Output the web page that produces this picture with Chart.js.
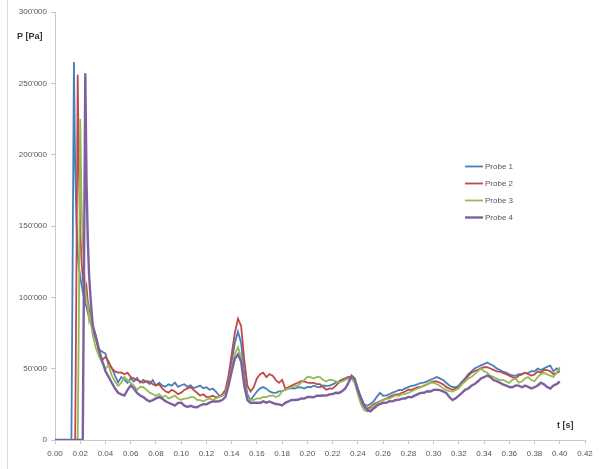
<!DOCTYPE html>
<html>
<head>
<meta charset="utf-8">
<script src="https://cdn.jsdelivr.net/npm/chart.js@4/dist/chart.umd.min.js"></script>
<style>
  html, body { margin: 0; padding: 0; background: #ffffff; }
  canvas { display: block; }
</style>
</head>
<body>
<canvas id="chart" width="603" height="469"></canvas>
<script>
// Sampling instants [s]
const time = [
  0, 0.010, 0.012, 0.013, 0.014, 0.015, 0.016, 0.017, 0.018, 0.019, 0.020,
  0.021, 0.022, 0.023, 0.024, 0.025, 0.026, 0.027, 0.028, 0.029, 0.030,
  0.0325, 0.035, 0.0375, 0.040, 0.0425, 0.045, 0.0475, 0.050,
  0.0525, 0.055, 0.0575, 0.060, 0.0625, 0.065, 0.0675, 0.070,
  0.0725, 0.075, 0.0775, 0.080, 0.0825, 0.085, 0.0875, 0.090,
  0.0925, 0.095, 0.0975, 0.100, 0.1025, 0.105, 0.1075, 0.110,
  0.1125, 0.115, 0.1175, 0.120, 0.1225, 0.125, 0.1275, 0.130,
  0.1325, 0.135, 0.1375, 0.140, 0.1425, 0.145, 0.1475, 0.150,
  0.1525, 0.155, 0.1575, 0.160, 0.1625, 0.165, 0.1675, 0.170,
  0.1725, 0.175, 0.1775, 0.180, 0.1825, 0.185, 0.1875, 0.190,
  0.1925, 0.195, 0.1975, 0.200, 0.2025, 0.205, 0.2075, 0.210,
  0.2125, 0.215, 0.2175, 0.220, 0.2225, 0.225, 0.2275, 0.230,
  0.2325, 0.235, 0.2375, 0.240, 0.2425, 0.245, 0.2475, 0.250,
  0.2525, 0.255, 0.2575, 0.260, 0.2625, 0.265, 0.2675, 0.270,
  0.2725, 0.275, 0.2775, 0.280, 0.2825, 0.285, 0.2875, 0.290,
  0.2925, 0.295, 0.2975, 0.300, 0.3025, 0.305, 0.3075, 0.310,
  0.3125, 0.315, 0.3175, 0.320, 0.3225, 0.325, 0.3275, 0.330,
  0.3325, 0.335, 0.3375, 0.340, 0.3425, 0.345, 0.3475, 0.350,
  0.3525, 0.355, 0.3575, 0.360, 0.3625, 0.365, 0.3675, 0.370,
  0.3725, 0.375, 0.3775, 0.380, 0.3825, 0.385, 0.3875, 0.390,
  0.3925, 0.395, 0.3975, 0.400
];

// Pressure at each probe [Pa]
const probe1 = [
  0, 0, 0, 0, 130000, 265000, 190000, 152000, 130000, 121000, 114000,
  109000, 104000, 100000, 96000, 93000, 89000, 86000, 83000, 80000, 76000,
  70200, 63400, 61800, 60500, 52300, 50600, 45200, 40400,
  44100, 42300, 40100, 43200, 41000, 43500, 40200, 42100,
  40800, 39200, 42000, 38300, 40100, 38200, 37400, 39000,
  38100, 40200, 37300, 38400, 39100, 37200, 38300, 36400,
  37200, 38100, 36300, 37000, 35200, 36100, 34000, 31200,
  31000, 34000, 42000, 55000, 68000, 76000, 68000, 46000,
  32000, 28000, 31000, 34000, 36200, 37100, 36000, 34100,
  33200, 33000, 34100, 34300, 35200, 36000, 36300, 36100,
  37000, 36800, 36100, 37200, 37000, 38100, 37200, 37000,
  38200, 37900, 38100, 39000, 40100, 41200, 42300, 43100,
  44200, 44000, 42000, 36000, 30000, 25000, 24000, 25200,
  27100, 30200, 33000, 31000, 31200, 32100, 33200, 34000,
  35100, 35000, 36200, 37100, 38000, 38300, 39100, 40000,
  40200, 41100, 42200, 43100, 44100, 43200, 42000, 40100,
  38200, 37100, 37000, 38100, 41000, 43200, 46100, 48000,
  50100, 51200, 52300, 53200, 54300, 53100, 52000, 50200,
  49100, 48000, 47200, 46100, 45200, 45000, 46100, 46300,
  47100, 46900, 48200, 48100, 50100, 49000, 50200, 51300,
  52100, 48100, 50200, 49000
];

const probe2 = [
  0, 0, 0, 0, 0, 0, 0, 120000, 256000, 185000, 148000,
  126000, 113000, 106000, 101000, 107000, 97000, 92000, 88000, 84000, 80000,
  72000, 60200, 56100, 58300, 55100, 50200, 48100, 47200,
  47300, 46100, 47200, 44100, 43200, 42100, 41200, 40100,
  41200, 41000, 39100, 38200, 39100, 36200, 34100, 33200,
  35100, 34000, 32100, 33200, 35100, 36200, 37100, 35000,
  33100, 31200, 32000, 30100, 30200, 31100, 30000, 30200,
  32000, 35000, 45000, 60000, 75000, 85000, 80000, 56000,
  38000, 34000, 37100, 43200, 46100, 47200, 44100, 46200,
  45100, 42000, 40100, 42200, 36100, 37000, 38100, 39200,
  40100, 41200, 41000, 40200, 40100, 40000, 39200, 39100,
  37100, 35200, 36100, 36000, 38100, 40200, 42100, 43200,
  44100, 44000, 42000, 34000, 27000, 23000, 22000, 23100,
  25100, 26000, 27200, 28100, 29000, 30200, 31100, 32000,
  32200, 33100, 34000, 35200, 35100, 36000, 37100, 37200,
  38100, 39000, 40200, 41100, 41000, 40100, 39000, 37200,
  36100, 35200, 36000, 37100, 40200, 42100, 45000, 47100,
  48200, 49100, 50200, 51100, 51000, 50100, 49200, 48100,
  48000, 47100, 46200, 45100, 44000, 43200, 45100, 46000,
  47200, 46100, 45200, 46000, 48100, 47200, 49100, 49000,
  48200, 46100, 47000, 48100
];

const probe3 = [
  0, 0, 0, 0, 0, 0, 0, 0, 0, 95000, 225000,
  168000, 138000, 118000, 106000, 99000, 94000, 84000, 88000, 79000, 73000,
  64100, 58200, 54000, 50100, 52200, 45100, 41200, 38000,
  40100, 44200, 42000, 40100, 38200, 35100, 37200, 37000,
  35100, 33200, 32100, 31000, 32200, 30100, 31000, 29200,
  30100, 31200, 29100, 28200, 29000, 29200, 30100, 30000,
  28200, 28000, 27100, 28200, 29100, 28000, 29200, 30100,
  31000, 33000, 40000, 50000, 60000, 65000, 58000, 41000,
  30000, 28000, 28200, 29100, 29000, 30200, 30100, 31000,
  31200, 30100, 31000, 34100, 35200, 36100, 37000, 38200,
  38100, 40200, 42100, 44200, 44000, 43100, 44200, 44100,
  42100, 41000, 42200, 42000, 41100, 40200, 41000, 42100,
  43200, 43000, 40000, 32000, 25000, 21000, 20000, 22100,
  24100, 25200, 27000, 28100, 29200, 29000, 30100, 31200,
  31000, 32100, 32200, 33100, 34000, 35200, 36100, 37000,
  38200, 39100, 40000, 40200, 39100, 38000, 36200, 35100,
  34200, 34000, 35100, 36200, 39100, 41000, 43200, 44100,
  46200, 48100, 50000, 48200, 47100, 45000, 44200, 43100,
  42000, 42200, 41100, 40000, 42200, 43100, 40200, 41000,
  43200, 44100, 42000, 41200, 44100, 46200, 47100, 46000,
  45100, 44200, 47100, 51000
];

const probe4 = [
  0, 0, 0, 0, 0, 0, 0, 0, 0, 0, 0,
  0, 0, 120000, 257000, 180000, 140000, 116000, 102000, 90000, 80000,
  72100, 63000, 55200, 48100, 44200, 40100, 36200, 33100,
  32000, 31200, 35100, 38200, 36100, 33000, 31200, 30100,
  28200, 27100, 28000, 29200, 30100, 29000, 27200, 26100,
  25200, 24100, 26000, 26200, 24100, 23200, 24000, 23100,
  23000, 24200, 25100, 25000, 26200, 27100, 27000, 27200,
  28000, 30000, 38000, 48000, 57000, 60000, 55000, 38000,
  28000, 26000, 26100, 26200, 26000, 27100, 26200, 27000,
  26100, 25200, 25000, 24200, 26100, 27000, 28100, 28000,
  28200, 29100, 29000, 30200, 30100, 30000, 31100, 31000,
  31200, 31100, 32000, 32200, 33100, 33000, 34200, 36100,
  40000, 45000, 43000, 35000, 29000, 24000, 21000, 20100,
  22100, 24000, 25200, 26100, 26000, 27200, 27100, 28000,
  28200, 29000, 29100, 30200, 30000, 31100, 32200, 33000,
  33100, 34200, 34000, 35100, 35200, 35000, 34100, 33000,
  30100, 28000, 29200, 31100, 33000, 35200, 36100, 38000,
  39200, 41000, 43100, 44000, 45200, 44100, 42000, 41200,
  40100, 39000, 38200, 37100, 37000, 38200, 38100, 37000,
  38100, 37200, 36100, 37000, 38200, 40100, 39000, 37100,
  36000, 38200, 39100, 41000
];

const seriesNames = ['Probe 1', 'Probe 2', 'Probe 3', 'Probe 4'];
const seriesColors = ['#4a7ebb', '#be4b48', '#98b954', '#7d60a0'];
const seriesWidths = [1.8, 1.8, 1.8, 2.4];
const seriesValues = [probe1, probe2, probe3, probe4];

const yTickStep = 50000;
const yMax = 300000;
const xTickStep = 0.02;
const xMax = 0.42;

const axisColor = '#c9c9c9';
const labelColor = '#555555';
const fontFamily = '"Liberation Sans", Arial, sans-serif';

function withApostrophes(v) {
  return String(Math.round(v)).replace(/\B(?=(\d{3})+(?!\d))/g, "'");
}

// Axis captions, in-plot legend and the left frame edge
const decorations = {
  id: 'decorations',
  afterDraw(chart) {
    const ctx = chart.ctx;
    ctx.save();
    ctx.strokeStyle = '#dcdcdc';
    ctx.lineWidth = 1;
    ctx.beginPath();
    ctx.moveTo(7.5, 0);
    ctx.lineTo(7.5, 469);
    ctx.stroke();

    ctx.fillStyle = '#333333';
    ctx.font = 'bold 9px ' + fontFamily;
    ctx.textBaseline = 'middle';
    ctx.textAlign = 'left';
    ctx.fillText('P [Pa]', 17, 37);
    ctx.fillText('t [s]', 557, 426);

    ctx.font = '8px ' + fontFamily;
    chart.data.datasets.forEach((ds, i) => {
      const y = 166 + i * 17 + 0.5;
      ctx.strokeStyle = ds.borderColor;
      ctx.lineWidth = ds.borderWidth;
      ctx.beginPath();
      ctx.moveTo(465, y);
      ctx.lineTo(483, y);
      ctx.stroke();
      ctx.fillStyle = labelColor;
      ctx.fillText(ds.label, 485, y);
    });
    ctx.restore();
  }
};

const datasets = seriesValues.map((vals, i) => ({
  label: seriesNames[i],
  data: time.map((t, k) => ({ x: t, y: vals[k] })),
  borderColor: seriesColors[i],
  backgroundColor: seriesColors[i],
  borderWidth: seriesWidths[i],
  pointRadius: 0,
  tension: 0,
  fill: false,
  order: 3 - i
}));

new Chart(document.getElementById('chart'), {
  type: 'line',
  data: { datasets },
  plugins: [decorations],
  options: {
    responsive: false,
    animation: false,
    events: [],
    layout: { padding: { left: 0, right: 18, top: 12, bottom: 0 } },
    plugins: {
      legend: { display: false },
      tooltip: { enabled: false },
      title: { display: false }
    },
    scales: {
      x: {
        type: 'linear',
        min: 0,
        max: xMax,
        ticks: {
          stepSize: xTickStep,
          color: labelColor,
          font: { family: fontFamily, size: 8 },
          padding: 5,
          maxRotation: 0,
          autoSkip: false,
          callback: v => Number(v).toFixed(2)
        },
        grid: { drawOnChartArea: false, drawTicks: true, tickLength: 4, color: axisColor },
        border: { display: true, color: axisColor, width: 1 },
        afterFit(scale) { scale.height = 29; }
      },
      y: {
        type: 'linear',
        min: 0,
        max: yMax,
        ticks: {
          stepSize: yTickStep,
          color: labelColor,
          font: { family: fontFamily, size: 8 },
          padding: 4,
          callback: v => withApostrophes(v)
        },
        grid: { drawOnChartArea: false, drawTicks: true, tickLength: 4, color: axisColor },
        border: { display: true, color: axisColor, width: 1 },
        afterFit(scale) { scale.width = 55; }
      }
    }
  }
});
</script>
</body>
</html>
